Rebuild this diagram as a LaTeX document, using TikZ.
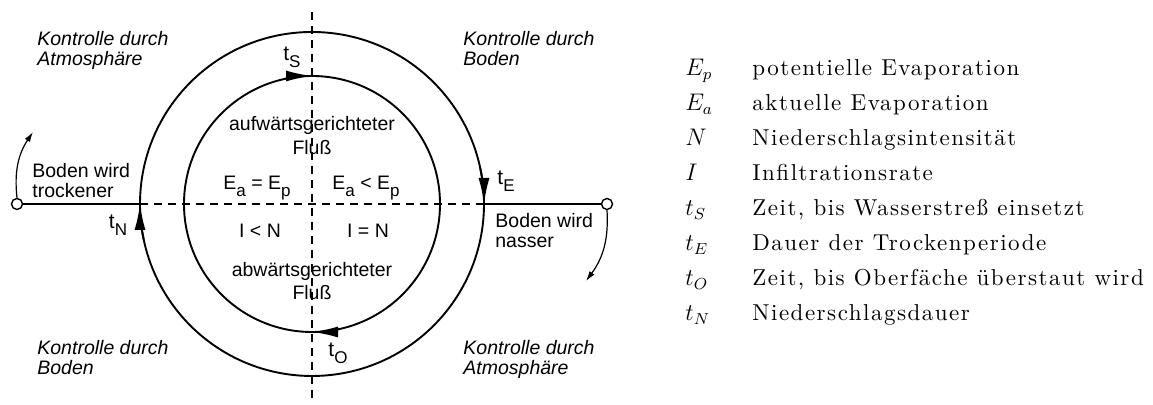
\documentclass[tikz,border=0pt]{standalone}
\usepackage{fontspec}
\newfontfamily\labfont{Liberation Sans}
\newfontfamily\legendfont{lmroman10-regular.otf}[LetterSpace=6.5]
\usetikzlibrary{arrows.meta}
\newcommand\lowsub[1]{\raisebox{-0.34em}{\fontsize{8.5}{8.5}\selectfont #1}}

\begin{document}
\begin{tikzpicture}[x=0.5pt,y=0.5pt,
  ring/.style={line width=0.95pt},
  axis/.style={line width=0.6pt,dash pattern=on 4pt off 3pt},
  marker/.style={draw,circle,line width=0.7pt,minimum size=5.5pt,inner sep=0pt},
  cycarrow/.style={-{Latex[length=13pt,width=5.5pt]}},
  flip/.style={line width=0.6pt,-{Latex[length=5pt,width=3pt]}},
  lab/.style={font=\labfont\fontsize{9.75}{9.8}\selectfont,inner sep=0pt,align=left},
  tlab/.style={inner sep=0pt,font=\labfont\fontsize{10.5}{10.5}\selectfont},
  ctrl/.style={lab,font=\labfont\itshape\fontsize{9.75}{9.8}\selectfont,anchor=north west},
  flow/.style={lab,align=center,anchor=north},
  sym/.style={inner sep=0pt,anchor=base west,font=\fontsize{11.5}{14}\selectfont},
  txt/.style={inner sep=0pt,anchor=base west,font=\legendfont\fontsize{11.5}{14}\selectfont}]
\useasboundingbox (0,0) rectangle (1153,405);

% the two cycles
\coordinate (C) at (312,201);
\draw[ring] (C) circle[radius=172];
\draw[ring] (C) circle[radius=128];
\path (C) ++(180:172) coordinate (oL);
\path (C) ++(0:172) coordinate (oR);

% axes
\coordinate (top) at (312,393);
\coordinate (bot) at (312,2);
\draw[axis] (top) -- (bot);
\node[marker] (mL) at (17,201) {};
\node[marker] (mR) at (607,201) {};
\draw[ring] (mL) -- (oL);
\draw[axis] (oL) -- (oR);
\draw[ring] (oR) -- (mR);

% turning arrows
\coordinate (dryTip) at (33,273);
\coordinate (wetTip) at (586,124);
\draw[flip] (mL.north) to[bend left=20] (dryTip);
\draw[flip] (mR.south) to[bend left=20] (wetTip);

% arrows on the cycles
\draw[ring,cycarrow] (C) ++(102:128) arc[start angle=102,end angle=90,radius=128];
\draw[ring,cycarrow] (C) ++(282:128) arc[start angle=282,end angle=270,radius=128];
\draw[ring,cycarrow] (C) ++(12:172) arc[start angle=12,end angle=0,radius=172];
\draw[ring,cycarrow] (C) ++(192:172) arc[start angle=192,end angle=180,radius=172];

\node[tlab] (tS) at (292,348) {t\lowsub{S}};
\node[tlab] (tO) at (338,52) {t\lowsub{O}};
\node[tlab] (tE) at (506,224) {t\lowsub{E}};
\node[tlab] (tN) at (118,180) {t\lowsub{N}};

% quadrants
\node[ctrl] (ctrlTL) at (37,374) {Kontrolle durch\\Atmosphäre};
\node[ctrl] (ctrlTR) at (463,374) {Kontrolle durch\\Boden};
\node[ctrl] (ctrlBL) at (37,65) {Kontrolle durch\\Boden};
\node[ctrl] (ctrlBR) at (463,65) {Kontrolle durch\\Atmosphäre};

\node[lab,anchor=north west] (dry) at (32,242) {Boden wird\\trockener};
\node[lab,anchor=north west] (wet) at (495,192) {Boden wird\\nasser};

% inside
\node[flow,font=\labfont\fontsize{9.75}{12}\selectfont] (up) at (312,289) {aufwärtsgerichteter\\Fluß};
\node[flow,font=\labfont\fontsize{9.75}{11.5}\selectfont] (down) at (312,143) {abwärtsgerichteter\\Fluß};
\node[lab,anchor=base] (eq1) at (257,215) {E\lowsub{a} = E\lowsub{p}};
\node[lab,anchor=base] (eq2) at (366,215) {E\lowsub{a} < E\lowsub{p}};
\node[lab,anchor=base] (in1) at (260,167) {I < N};
\node[lab,anchor=base] (in2) at (368,167) {I = N};

% legend
\node[sym] (sEp) at (685,329) {$E_p$};
\node[txt] (dEp) at (752,329) {potentielle Evaporation};
\node[sym] (sEa) at (685,294) {$E_a$};
\node[txt] (dEa) at (752,294) {aktuelle Evaporation};
\node[sym] (sN) at (685,259) {$N$};
\node[txt] (dN) at (752,259) {Niederschlagsintensität};
\node[sym] (sI) at (685,224) {$I$};
\node[txt] (dI) at (752,224) {Infiltrationsrate};
\node[sym] (stS) at (685,189) {$t_S$};
\node[txt] (dtS) at (752,189) {Zeit, bis Wasserstreß einsetzt};
\node[sym] (stE) at (685,154) {$t_E$};
\node[txt] (dtE) at (752,154) {Dauer der Trockenperiode};
\node[sym] (stO) at (685,119) {$t_O$};
\node[txt] (dtO) at (752,119) {Zeit, bis Oberfäche überstaut wird};
\node[sym] (stN) at (685,84) {$t_N$};
\node[txt] (dtN) at (752,84) {Niederschlagsdauer};
\end{tikzpicture}
\end{document}
